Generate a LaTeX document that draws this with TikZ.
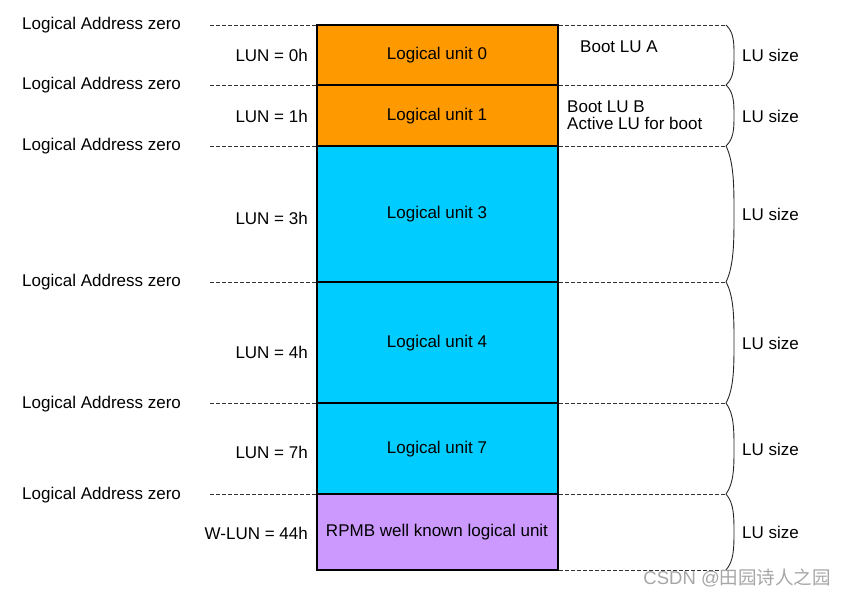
\documentclass[tikz,border=0pt]{standalone}
\usepackage{fontspec}
\setmainfont{Liberation Sans}
\newfontfamily\cjkfont{Noto Sans CJK SC}
\definecolor{luorange}{HTML}{FF9900}
\definecolor{lucyan}{HTML}{00CCFF}
\definecolor{lupurple}{HTML}{CC99FF}
\begin{document}
\begin{tikzpicture}[x=1pt,y=-1pt,
  every node/.style={font=\fontsize{17}{19.5}\selectfont, inner sep=0pt, yshift=-1.5pt},
  lubox/.style={draw=black, line width=2pt},
  dashline/.style={draw=black!80, line width=0.8pt, dash pattern=on 3.5pt off 2.5pt},
  bracepath/.style={draw=black!85, line width=0.9pt},
  addr/.style={anchor=west},
  lun/.style={anchor=east},
  lusize/.style={anchor=west}]
\useasboundingbox (0,0) rectangle (845,595);
% boxes
\path[lubox, fill=luorange] (317,25) rectangle (558,85);
\path[lubox, fill=luorange] (317,85) rectangle (558,146);
\path[lubox, fill=lucyan] (317,146) rectangle (558,282);
\path[lubox, fill=lucyan] (317,282) rectangle (558,403);
\path[lubox, fill=lucyan] (317,403) rectangle (558,494);
\path[lubox, fill=lupurple] (317,494) rectangle (558,570);
% box labels
\node (u0) at (437,54) {Logical unit 0};
\node (u1) at (437,115) {Logical unit 1};
\node (u3) at (437,213) {Logical unit 3};
\node (u4) at (437,342) {Logical unit 4};
\node (u7) at (437,448) {Logical unit 7};
\node (rp) at (437,531) {RPMB well known logical unit};
% left dashed lines
\foreach \y in {25,85,146,282,403,494}{
  \draw[dashline] (210,\y) -- (316,\y);
}
% right dashed lines
\foreach \y in {25,85,146,282,403,494,570}{
  \draw[dashline] (559,\y) -- (726,\y);
}
% braces
\foreach \a/\b in {25/85,85/146,146/282,282/403,403/494,494/570}{
  \pgfmathsetmacro{\h}{\b-\a}
  \pgfmathsetmacro{\m}{(\a+\b)/2}
  \draw[bracepath] (726,\a) .. controls (734,\a+0.12*\h) and (734,\a+0.3*\h) .. (734,\m)
                   .. controls (734,\b-0.3*\h) and (734,\b-0.12*\h) .. (726,\b);
}
% address labels
\node[addr] (a0) at (22,24) {Logical Address zero};
\node[addr] (a1) at (22,84) {Logical Address zero};
\node[addr] (a2) at (22,145) {Logical Address zero};
\node[addr] (a3) at (22,281) {Logical Address zero};
\node[addr] (a4) at (22,403) {Logical Address zero};
\node[addr] (a5) at (22,494) {Logical Address zero};
% LUN labels
\node[lun] (l0) at (308,54) {LUN = 0h};
\node[lun] (l1) at (308,115) {LUN = 1h};
\node[lun] (l3) at (308,217) {LUN = 3h};
\node[lun] (l4) at (308,351) {LUN = 4h};
\node[lun] (l7) at (308,451) {LUN = 7h};
\node[lun] (l44) at (308,532) {W-LUN = 44h};
% boot labels
\node[anchor=west] (ba) at (580,45) {Boot LU A};
\node[anchor=west] (bb) at (567,105) {Boot LU B};
\node[anchor=west] (bc) at (567,122) {Active LU for boot};
% LU size
\node[lusize] (s0) at (742,54) {LU size};
\node[lusize] (s1) at (742,115) {LU size};
\node[lusize] (s3) at (742,213) {LU size};
\node[lusize] (s4) at (742,342) {LU size};
\node[lusize] (s7) at (742,448) {LU size};
\node[lusize] (s44) at (742,531) {LU size};
% watermark
\node[anchor=east, text=black!35, font=\fontsize{18.5}{21}\selectfont] (wm) at (831,576) {CSDN @{\cjkfont 田园诗人之园}};
\end{tikzpicture}
\end{document}
